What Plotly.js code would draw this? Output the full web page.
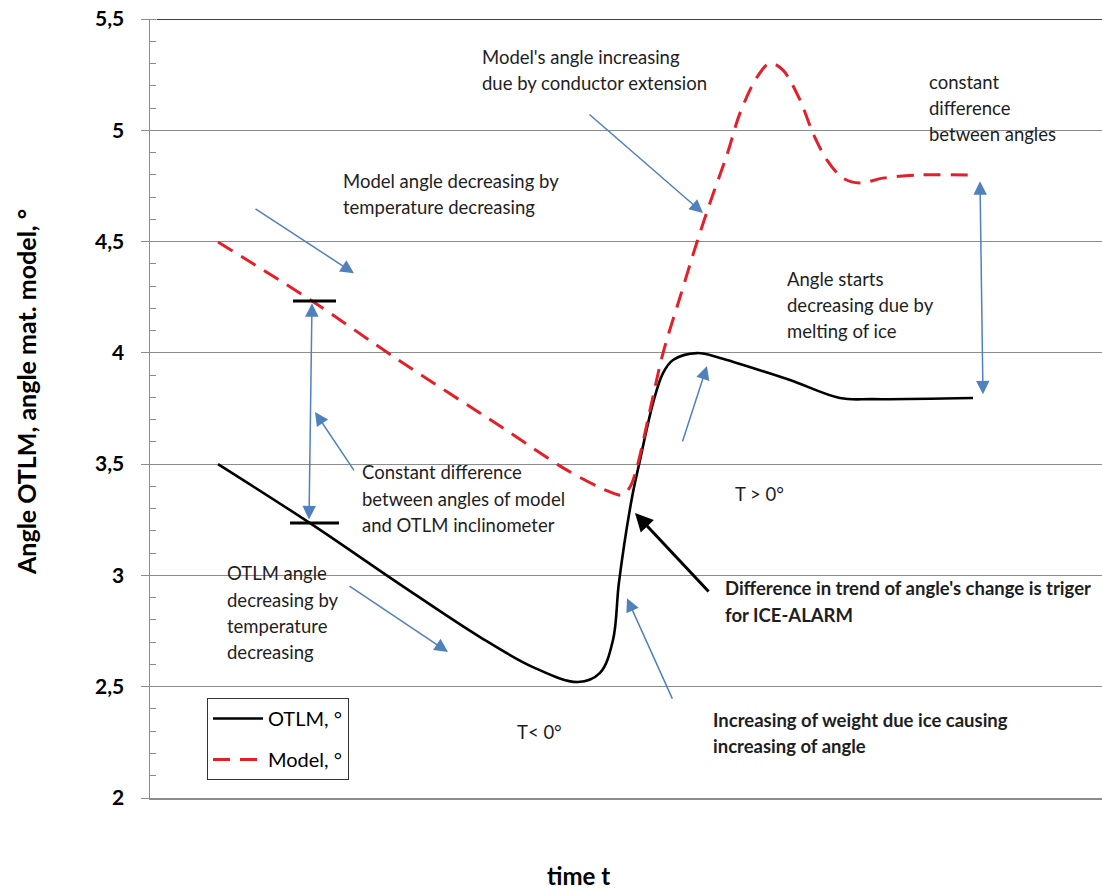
<!DOCTYPE html>
<html>
<head>
<meta charset="utf-8">
<script src="https://cdn.plot.ly/plotly-3.0.1.min.js"></script>
<style>html,body{margin:0;padding:0;background:#fff;}#chart{width:1102px;height:890px;}</style>
</head>
<body>
<div id="chart"></div>
<script>
// ---- data (time in arbitrary units, angle in degrees) ----
const timeOTLM = [6.8, 16, 25, 33, 38.3, 42.8, 45, 46.3, 46.9, 48.2, 49, 50.3, 51.3, 52.3, 54.7, 57, 59, 64, 69, 72.3, 82.3];
const otlmAngle = [3.50, 3.235, 2.96, 2.723, 2.588, 2.521, 2.562, 2.710, 2.97, 3.35, 3.518, 3.774, 3.909, 3.968, 3.999, 3.977, 3.950, 3.878, 3.797, 3.792, 3.797];
const timeModel = [6.8, 16.2, 25, 35, 41.7, 46, 47.2, 48, 48.7, 50, 51.3, 53, 54.7, 56.2, 57.7, 59, 60.7, 62, 63.3, 65, 66.3, 67.7, 69.3, 71, 73.3, 76.7, 81.8];
const modelAngle = [4.498, 4.233, 3.963, 3.671, 3.473, 3.375, 3.361, 3.397, 3.487, 3.743, 3.999, 4.25, 4.498, 4.70, 4.89, 5.077, 5.239, 5.302, 5.270, 5.136, 4.987, 4.866, 4.785, 4.763, 4.785, 4.799, 4.799];
const seriesNames = ["OTLM, °", "Model, °"];
const yTicks = [2, 2.5, 3, 3.5, 4, 4.5, 5, 5.5];

// ---- annotation texts ----
const noteBlocks = [
  {lines: ["Model's angle increasing", "due by conductor extension"], x: 33.0, y: [5.329, 5.212], bold: false},
  {lines: ["constant", "difference", "between angles"], x: 77.7, y: [5.217, 5.100, 4.983], bold: false},
  {lines: ["Model angle decreasing by", "temperature decreasing"], x: 19.1, y: [4.772, 4.655], bold: false},
  {lines: ["Angle starts", "decreasing due by", "melting of ice"], x: 63.5, y: [4.332, 4.215, 4.098], bold: false},
  {lines: ["Constant difference", "between angles of model", "and OTLM inclinometer"], x: 21.0, y: [3.465, 3.343, 3.226], bold: false},
  {lines: ["OTLM angle", "decreasing by", "temperature", "decreasing"], x: 7.5, y: [3.011, 2.889, 2.773, 2.656], bold: false},
  {lines: ["T > 0°"], x: 58.3, y: [3.366], bold: false},
  {lines: ["T< 0°"], x: 36.5, y: [2.296], bold: false},
  {lines: ["Difference in trend of angle's change is triger", "for ICE-ALARM"], x: 57.3, y: [2.943, 2.822], bold: true},
  {lines: ["Increasing of weight due ice causing", "increasing of angle"], x: 56.1, y: [2.350, 2.234], bold: true}
];

// arrows: tail (tx,ty) -> head (hx,hy)
const arrows = [
  {tx: 10.4, ty: 4.651, hx: 20.4, hy: 4.358, color: "#4f81bd", w: 1.5, both: false},
  {tx: 43.8, ty: 5.077, hx: 55.3, hy: 4.628, color: "#4f81bd", w: 1.5, both: false},
  {tx: 15.9, ty: 3.245, hx: 16.2, hy: 4.223, color: "#4f81bd", w: 1.5, both: true},
  {tx: 20.5, ty: 3.465, hx: 16.5, hy: 3.734, color: "#4f81bd", w: 1.5, both: false},
  {tx: 19.8, ty: 2.957, hx: 29.8, hy: 2.656, color: "#4f81bd", w: 1.5, both: false},
  {tx: 53.2, ty: 3.595, hx: 55.7, hy: 3.941, color: "#4f81bd", w: 1.5, both: false},
  {tx: 83.3, ty: 3.807, hx: 83.0, hy: 4.771, color: "#4f81bd", w: 1.5, both: true},
  {tx: 56.0, ty: 2.921, hx: 48.5, hy: 3.280, color: "#000000", w: 3, both: false},
  {tx: 52.3, ty: 2.440, hx: 47.7, hy: 2.898, color: "#4f81bd", w: 1.5, both: false}
];

// short black level marks
const marks = [
  {x0: 14.3, x1: 18.6, y: 4.233},
  {x0: 14.0, x1: 18.9, y: 3.235}
];

const FONT = "Lato, 'Open Sans', sans-serif";

const traces = [
  {x: timeOTLM, y: otlmAngle, name: seriesNames[0], mode: "lines", legendgroup: "a",
   line: {color: "#000000", width: 2.6, shape: "spline", smoothing: 1}},
  {x: timeModel, y: modelAngle, name: seriesNames[1], mode: "lines", legendgroup: "b",
   line: {color: "#e3202a", width: 3, dash: "17px,10px", shape: "spline", smoothing: 0.9}}
];

const annotations = [];
noteBlocks.forEach(b => {
  b.lines.forEach((ln, i) => {
    annotations.push({x: b.x, y: b.y[i], xref: "x", yref: "y", text: ln, showarrow: false,
      xanchor: "left", yanchor: "middle", align: "left",
      font: {family: FONT, size: 18.5, color: "#1e1e1e", weight: b.bold ? "bold" : "normal"}});
  });
});
arrows.forEach(a => {
  const ann = {x: a.hx, y: a.hy, ax: a.tx, ay: a.ty, xref: "x", yref: "y", axref: "x", ayref: "y",
    text: "", showarrow: true, arrowhead: 2, arrowsize: a.w > 2 ? 1.2 : 1.8, arrowwidth: a.w, arrowcolor: a.color, standoff: 0};
  if (a.both) { ann.arrowside = "end+start"; ann.startarrowhead = 2; ann.startarrowsize = 1.8; ann.startstandoff = 0; }
  annotations.push(ann);
});
annotations.push({xref: "paper", yref: "paper", x: (26 - 150) / 952, y: (798 - 392) / 779, text: "Angle OTLM, angle mat. model, °",
  textangle: -90, showarrow: false, xanchor: "center", yanchor: "middle", font: {family: FONT, size: 25, weight: "bold", color: "#000"}});
annotations.push({xref: "paper", yref: "paper", x: (578 - 150) / 952, y: (798 - 875) / 779, text: "time t",
  showarrow: false, xanchor: "center", yanchor: "middle", font: {family: FONT, size: 24, weight: "bold", color: "#000"}});

const shapes = [
  {type: "line", xref: "paper", yref: "y", x0: 0.007, x1: 1, y0: 5.5, y1: 5.5, line: {color: "#000", width: 1.5}}
];
marks.forEach(m => shapes.push({type: "line", xref: "x", yref: "y", x0: m.x0, x1: m.x1, y0: m.y, y1: m.y, line: {color: "#000", width: 3}}));

const layout = {
  width: 1102, height: 890,
  margin: {l: 150, r: 0, t: 19, b: 92},
  paper_bgcolor: "#fff", plot_bgcolor: "#fff",
  separators: ", ",
  showlegend: true,
  legend: {x: (207 - 150) / 952, y: (798 - 698) / 779, xanchor: "left", yanchor: "top",
    bordercolor: "#333", borderwidth: 1, bgcolor: "#fff", traceorder: "grouped", tracegroupgap: 12,
    itemwidth: 50, font: {family: FONT, size: 20, color: "#000"}},
  xaxis: {range: [0, 95.2], showgrid: false, zeroline: false, showticklabels: false, ticks: "",
    showline: true, linecolor: "#8c8c8c", linewidth: 1.5},
  yaxis: {range: [2, 5.5], tickvals: yTicks, showgrid: true, gridcolor: "#8c8c8c", gridwidth: 1, zeroline: false,
    showline: true, linecolor: "#8c8c8c", linewidth: 1.5, ticks: "outside", ticklen: 8, tickcolor: "#8c8c8c",
    ticklabelstandoff: 12,
    tickfont: {family: FONT, size: 21, weight: "bold", color: "#000"},
    minor: {dtick: 0.1, tick0: 2, ticks: "inside", ticklen: 6, tickcolor: "#8c8c8c", showgrid: false}},
  annotations: annotations,
  shapes: shapes
};

Plotly.newPlot("chart", traces, layout, {displayModeBar: false, staticPlot: true});
</script>
</body>
</html>
